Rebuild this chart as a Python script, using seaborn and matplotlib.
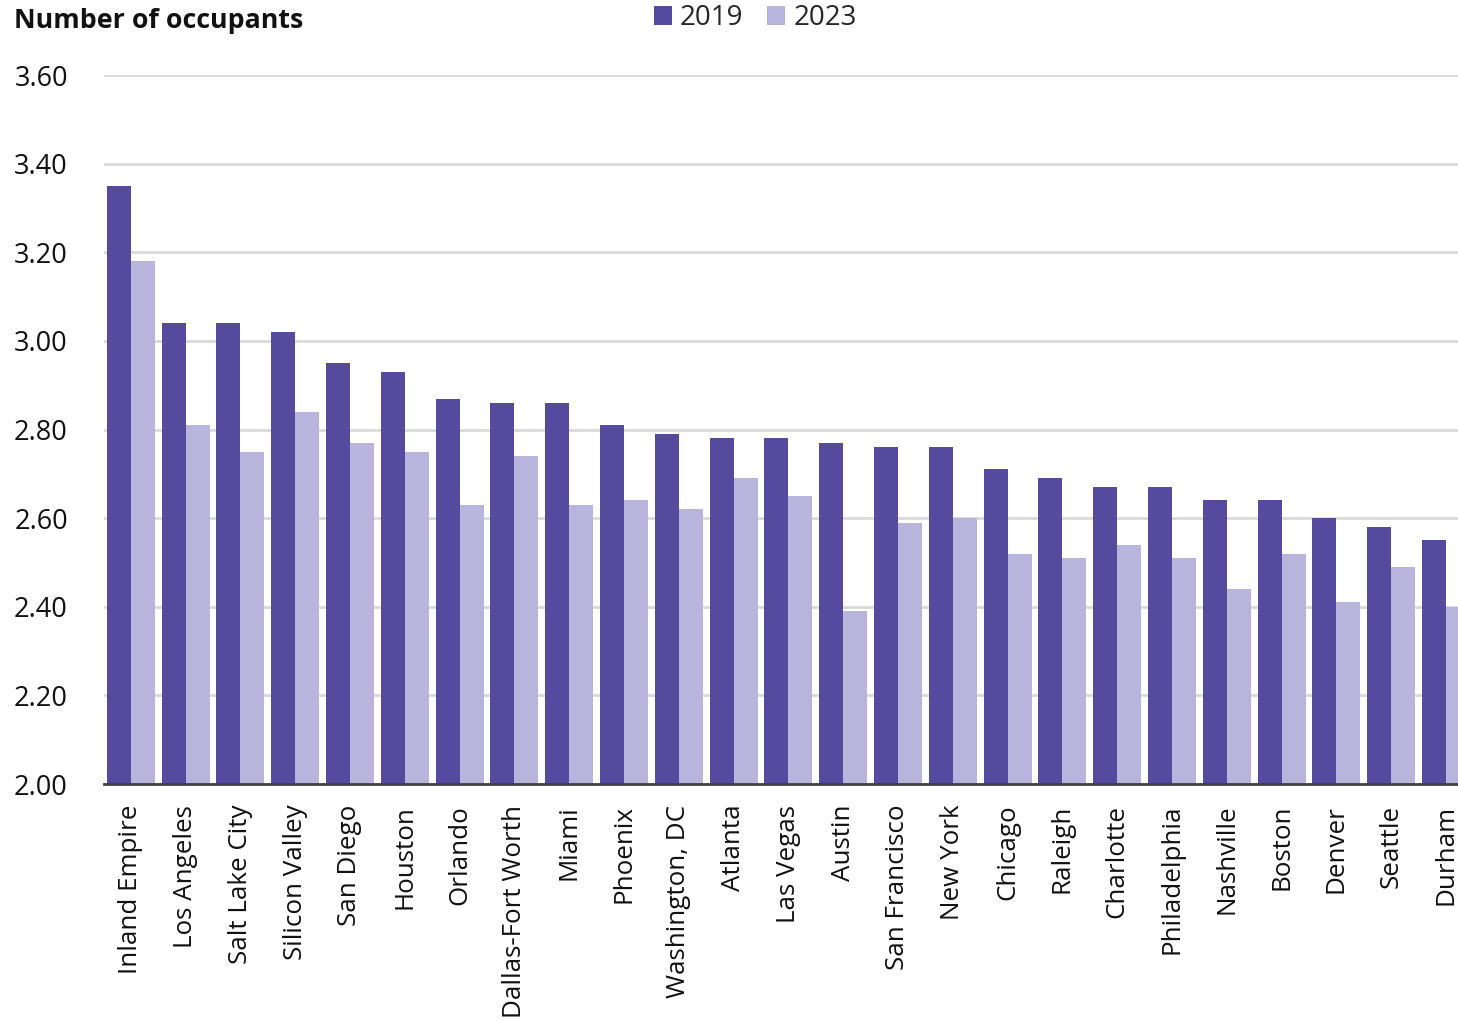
import matplotlib
matplotlib.use("Agg")
import matplotlib.pyplot as plt
import pandas as pd
import seaborn as sns

# Metro areas, sorted by 2019 value
metros = ['Inland Empire', 'Los Angeles', 'Salt Lake City', 'Silicon Valley', 'San Diego',
          'Houston', 'Orlando', 'Dallas-Fort Worth', 'Miami', 'Phoenix', 'Washington, DC',
          'Atlanta', 'Las Vegas', 'Austin', 'San Francisco', 'New York', 'Chicago',
          'Raleigh', 'Charlotte', 'Philadelphia', 'Nashville', 'Boston', 'Denver',
          'Seattle', 'Durham']
occ_2019 = [3.35, 3.04, 3.04, 3.02, 2.95, 2.93, 2.87, 2.86, 2.86, 2.81, 2.79, 2.78, 2.78,
            2.77, 2.76, 2.76, 2.71, 2.69, 2.67, 2.67, 2.64, 2.64, 2.60, 2.58, 2.55]
occ_2023 = [3.18, 2.81, 2.75, 2.84, 2.77, 2.75, 2.63, 2.74, 2.63, 2.64, 2.62, 2.69, 2.65,
            2.39, 2.59, 2.60, 2.52, 2.51, 2.54, 2.51, 2.44, 2.52, 2.41, 2.49, 2.40]
years = ['2019', '2023']

df = pd.DataFrame({'Metro': metros, '2019': occ_2019, '2023': occ_2023})
df = df.melt(id_vars='Metro', var_name='Year', value_name='Occupants')

sns.set_style('white')
plt.rcParams['font.family'] = ['Open Sans', 'DejaVu Sans']

fig = plt.figure(figsize=(14.58, 10.21), dpi=100)
ax = fig.add_axes([0.0713, 0.2321, 0.9287, 0.6944])

sns.barplot(data=df, x='Metro', y='Occupants', hue='Year', hue_order=years,
            palette=['#554a9e', '#b9b4dc'], width=0.876, gap=0, saturation=1,
            linewidth=0, ax=ax)

ax.set_ylim(2.0, 3.6)
ax.set_xlim(-0.49, 24.22)
ax.set_yticks([2.0, 2.2, 2.4, 2.6, 2.8, 3.0, 3.2, 3.4, 3.6])
ax.set_yticklabels([f'{v:.2f}' for v in ax.get_yticks()])
ax.yaxis.grid(True, color='#d9d9d9', linewidth=2)
ax.set_axisbelow(True)
for s in ['top', 'right', 'left']:
    ax.spines[s].set_visible(False)
ax.spines['bottom'].set_color('#404040')
ax.spines['bottom'].set_linewidth(2)
ax.set_xlabel('')
ax.set_ylabel('')
ax.tick_params(axis='y', length=0, pad=26, labelsize=19.5, labelcolor='#111111')
ax.tick_params(axis='x', length=0, pad=15, labelsize=18.7, labelcolor='#111111')
plt.setp(ax.get_xticklabels(), rotation=90, ha='center', va='top')

handles, labels = ax.get_legend_handles_labels()
ax.legend(handles, labels, loc='center', bbox_to_anchor=(0.518, 0.982),
          bbox_transform=fig.transFigure, ncol=2, frameon=False, fontsize=20,
          handlelength=0.65, handleheight=0.65, handletextpad=0.3, columnspacing=0.85,
          borderaxespad=0, borderpad=0)

fig.text(0.0096, 0.979, 'Number of occupants', fontsize=19.3, fontweight='bold',
         ha='left', va='center', color='#111111')

fig.savefig('out.png', dpi=100)
